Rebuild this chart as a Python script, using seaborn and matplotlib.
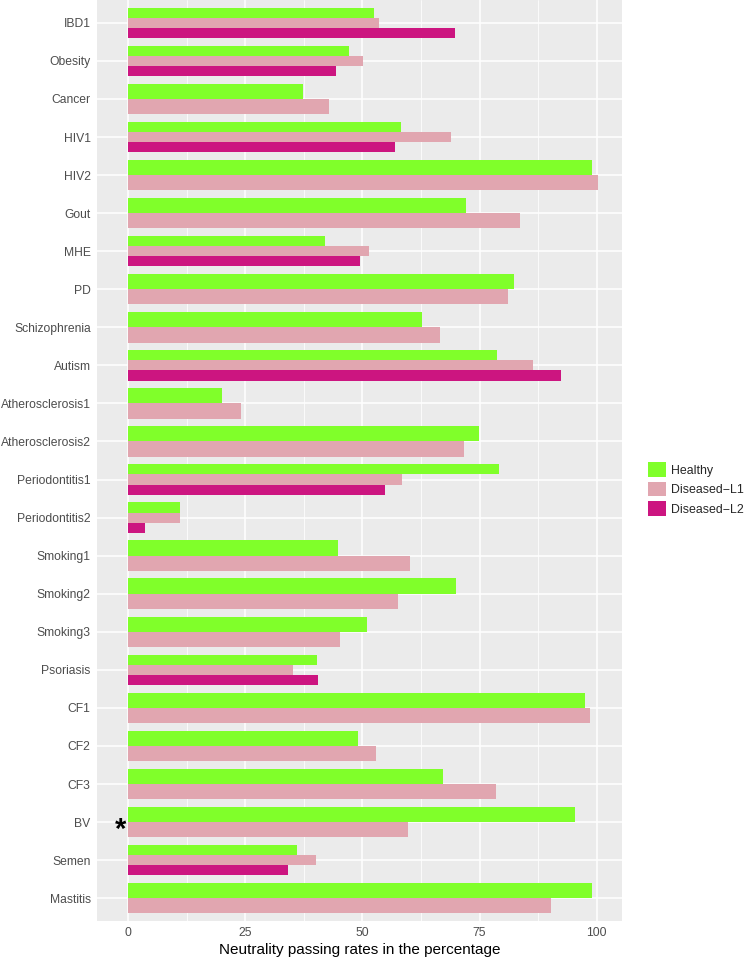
import numpy as np
import pandas as pd
import seaborn as sns
import matplotlib.pyplot as plt

# Data (percent)
categories = ['IBD1', 'Obesity', 'Cancer', 'HIV1', 'HIV2', 'Gout', 'MHE', 'PD',
              'Schizophrenia', 'Autism', 'Atherosclerosis1', 'Atherosclerosis2',
              'Periodontitis1', 'Periodontitis2', 'Smoking1', 'Smoking2', 'Smoking3',
              'Psoriasis', 'CF1', 'CF2', 'CF3', 'BV', 'Semen', 'Mastitis']
healthy = [52.4, 47.1, 37.3, 58.3, 99.0, 72.2, 42.1, 82.4, 62.7, 78.8, 20.1, 74.9,
           79.1, 11.2, 44.7, 70.0, 51.0, 40.4, 97.5, 49.1, 67.2, 95.3, 36.1, 99.0]
diseased_l1 = [53.6, 50.1, 42.8, 68.8, 100.3, 83.7, 51.4, 81.1, 66.6, 86.4, 24.2, 71.7,
               58.5, 11.2, 60.2, 57.7, 45.2, 35.2, 98.6, 52.8, 78.5, 59.7, 40.1, 90.2]
diseased_l2 = [69.7, 44.3, None, 56.9, None, None, 49.4, None, None, 92.4, None, None,
               54.8, 3.7, None, None, None, 40.5, None, None, None, None, 34.1, None]
groups = ['Healthy', 'Diseased\u2212L1', 'Diseased\u2212L2']
colors = ['#80FF2A', '#E1A6B0', '#CC1580']
star_category = 'BV'

rows = []
for i, cat in enumerate(categories):
    n = 3 if diseased_l2[i] is not None else 2
    for g, v in zip(groups, [healthy[i], diseased_l1[i], diseased_l2[i]]):
        if v is not None:
            rows.append({'Category': cat, 'Group': g, 'Rate': v, 'n': n})
df = pd.DataFrame(rows)

sns.set_theme(style='darkgrid', rc={
    'axes.facecolor': '#EBEBEB',
    'grid.color': 'white',
    'axes.edgecolor': '#EBEBEB',
})
plt.rcParams['font.family'] = ['Liberation Sans', 'DejaVu Sans']

fig = plt.figure(figsize=(7.46, 9.59), dpi=100)
ax = fig.add_axes([0.130, 0.0396, 0.704, 0.9604])

# categories with three groups, then those with two (so the bars fill the slot)
sns.barplot(data=df[df['n'] == 3], x='Rate', y='Category', hue='Group',
            order=categories, hue_order=groups, palette=colors, saturation=1,
            orient='h', width=0.8, linewidth=0, ax=ax)
sns.barplot(data=df[df['n'] == 2], x='Rate', y='Category', hue='Group',
            order=categories, hue_order=groups[:2], palette=colors[:2], saturation=1,
            orient='h', width=0.8, linewidth=0, legend=False, ax=ax)

ax.text(-1.6, categories.index(star_category) + 0.2, '*', fontsize=21,
        fontweight='bold', ha='center', va='center', color='black')

ax.set_xlim(-6.6, 105.4)
ax.set_ylim(len(categories) - 0.4, -0.6)
ax.set_xticks([0, 25, 50, 75, 100])
ax.set_xticks([12.5, 37.5, 62.5, 87.5], minor=True)
ax.grid(True, which='major', color='white', linewidth=1.1)
ax.grid(True, which='minor', axis='x', color='white', linewidth=0.55)
ax.set_axisbelow(True)
for s in ax.spines.values():
    s.set_visible(False)
ax.tick_params(axis='both', which='major', length=2.5, width=0.8, color='#333333',
               labelsize=8.7, labelcolor='#4D4D4D', pad=2)
ax.tick_params(axis='both', which='minor', length=0)
ax.set_ylabel('')
ax.set_xlabel('Neutrality passing rates in the percentage', fontsize=11,
              color='black', labelpad=3)

handles, labels = ax.get_legend_handles_labels()
ax.legend(handles[:3], labels[:3], loc='center left', bbox_to_anchor=(0.862, 0.49),
          bbox_transform=fig.transFigure, frameon=False, fontsize=8.9,
          handlelength=1.45, handleheight=1.45, handletextpad=0.45,
          labelspacing=0.4, borderaxespad=0)

fig.savefig('out.png', dpi=100, facecolor='white')
